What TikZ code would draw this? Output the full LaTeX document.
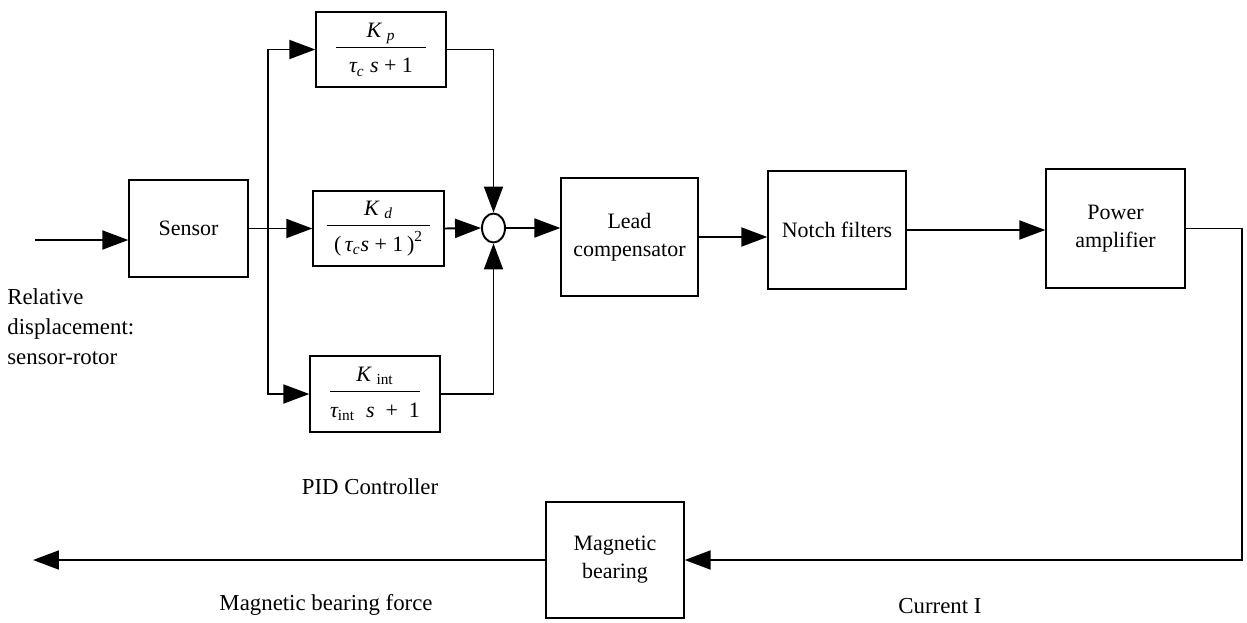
\documentclass[tikz,border=0pt]{standalone}
\usepackage{amsmath}
\usepackage{fontspec}
\setmainfont{Liberation Serif}
\usetikzlibrary{arrows.meta,shapes.geometric}

\tikzset{
  blk/.style={draw, line width=0.8pt, align=center, inner sep=2pt},
  sig/.style={line width=1.1pt},
  sigarr/.style={sig, -{Triangle[length=5.2mm,width=3.8mm]}},
  lbl/.style={font=\fontsize{13}{17}\selectfont, inner sep=0pt},
}
% fraction whose bar has a fixed length
\newcommand{\blockfrac}[3]{$\dfrac{\makebox[#1]{#2}\rule[-4pt]{0pt}{4pt}}{\rule{0pt}{13pt}#3}$}

\begin{document}
\begin{tikzpicture}[x=0.02cm, y=-0.02cm, font=\fontsize{12.5}{16}\selectfont]
  %%%%% START %%%%%
  \useasboundingbox (0,0) rectangle (1247,622);

  % blocks
  \node[blk, minimum width=2.6cm, minimum height=1.5cm] (kp) at (381,49.5)
    {\blockfrac{1.8cm}{$\textit{K}_{\ \textit{p}}$}{\textit{τ}_{\textit{c}}\ \textit{s}\text{ + 1}}};
  \node[blk, minimum width=2.62cm, minimum height=1.5cm] (kd) at (378.5,228.5)
    {\blockfrac{2.06cm}{$\textit{K}_{\ \textit{d}}$}{\text{(\,}\textit{τ}_{\textit{c}}\textit{s}\text{ + 1\,)}^{\text{2}}}};
  \node[blk, minimum width=2.6cm, minimum height=1.52cm] (kint) at (375,394)
    {\blockfrac{1.74cm}{$\textit{K}_{\ \text{int}}$}{\textit{τ}_{\text{int}}\ \ \textit{s}\text{ \ + \ 1}}};

  \node[blk, minimum width=2.38cm, minimum height=1.94cm] (sensor) at (188.5,228.5) {Sensor};
  \node[draw, ellipse, line width=1.1pt, minimum width=0.46cm, minimum height=0.58cm, inner sep=0pt] (sum) at (493.5,228) {};

  \node[blk, minimum width=2.74cm, minimum height=2.36cm] (lead) at (629.5,237) {Lead\\compensator};
  \node[blk, minimum width=2.76cm, minimum height=2.36cm] (notch) at (837,230) {Notch filters};
  \node[blk, minimum width=2.78cm, minimum height=2.38cm] (power) at (1115.5,228.5) {Power\\amplifier};
  \node[blk, minimum width=2.76cm, minimum height=2.32cm] (mag) at (615,560) {Magnetic\\bearing};

  % free ends
  \coordinate (in) at (35,240);
  \coordinate (split) at (268,229);
  \coordinate (out) at (33,560);

  % signal lines
  \draw[sigarr] (in) -- (in -| sensor.west);
  \draw[sigarr] (sensor.east) -- (kd.west);
  \draw[sigarr] (split) |- (kp.west);
  \draw[sigarr] (split) |- (kint.west);
  \draw[sigarr] (kp.east) -| (sum.north);
  \draw[sigarr] (kd.east) -- (sum.west);
  \draw[sigarr] (kint.east) -| (sum.south);
  \draw[sigarr] (sum.east) -- (lead.west |- sum.east);
  \draw[sigarr] (lead.east) -- (notch.west |- lead.east);
  \draw[sigarr] (notch.east) -- (power.west |- notch.east);
  \draw[sigarr] (power.east) -- ++(56,0) |- (mag.east);
  \draw[sigarr] (mag.west) -- (out);

  % labels
  \node[lbl, anchor=west, align=left] (inlabel) at (7,327) {Relative\\displacement:\\sensor-rotor};
  \node[lbl] (pidlabel) at (370,487) {PID Controller};
  \node[lbl] (forcelabel) at (326,605) {Magnetic bearing force};
  \node[lbl] (currentlabel) at (940,606) {Current I};

  %%%%% END %%%%%
\end{tikzpicture}
\end{document}
